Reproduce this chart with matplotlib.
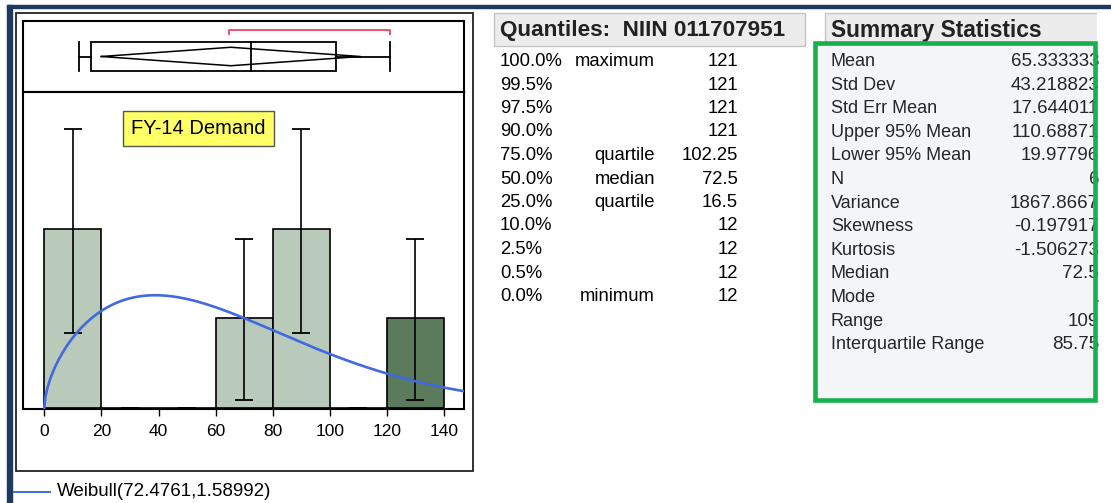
import numpy as np
import matplotlib.pyplot as plt
from matplotlib.patches import Rectangle

plt.rcParams['font.family'] = ['Liberation Sans', 'DejaVu Sans']

# histogram data (bins of 20)
bin_left = [0, 20, 40, 60, 80, 100, 120]
counts = [2, 0, 0, 1, 2, 0, 1]
ci_low = [0.84, 0, 0, 0.09, 0.84, 0, 0.09]
ci_high = [3.12, 0, 0, 1.89, 3.12, 0, 1.89]
selected = [False, False, False, False, False, False, True]

# outlier box plot values
box_min, box_q1, box_med, box_q3, box_max = 12, 16.5, 72.5, 102.25, 121
mean_val, mean_lo, mean_hi = 65.333333, 19.97796, 110.68871
shortest_half = [64.75, 121]

# fitted Weibull (scale, shape) from legend
wb_scale, wb_shape = 72.4761, 1.58992
n_obs = 6

q_pct = ['100.0%', '99.5%', '97.5%', '90.0%', '75.0%', '50.0%', '25.0%', '10.0%', '2.5%', '0.5%', '0.0%']
q_name = ['maximum', '', '', '', 'quartile', 'median', 'quartile', '', '', '', 'minimum']
q_val = ['121', '121', '121', '121', '102.25', '72.5', '16.5', '12', '12', '12', '12']

s_name = ['Mean', 'Std Dev', 'Std Err Mean', 'Upper 95% Mean', 'Lower 95% Mean', 'N', 'Variance',
          'Skewness', 'Kurtosis', 'Median', 'Mode', 'Range', 'Interquartile Range']
s_val = ['65.333333', '43.218823', '17.644011', '110.68871', '19.97796', '6', '1867.8667',
         '-0.197917', '-1.506273', '72.5', '.', '109', '85.75']

W, H = 1111, 503
fig = plt.figure(figsize=(W / 100, H / 100), dpi=100)

def px_axes(x0, y0, x1, y1):
    return fig.add_axes([x0 / W, 1 - y1 / H, (x1 - x0) / W, (y1 - y0) / H])

xlim = (-7.3, 147.0)

# box plot panel
bx = px_axes(23.5, 21, 464, 92)
bx.set_xlim(*xlim)
bx.set_ylim(0, 1)
bx.set_xticks([])
bx.set_yticks([])
for sp in bx.spines.values():
    sp.set_linewidth(1.5)
bx.add_patch(Rectangle((box_q1, 0.3), box_q3 - box_q1, 0.4, fill=False, ec='black', lw=1.3))
bx.plot([box_med, box_med], [0.3, 0.7], color='black', lw=1.3)
bx.plot([box_min, box_q1], [0.5, 0.5], color='black', lw=1.3)
bx.plot([box_q3, box_max], [0.5, 0.5], color='black', lw=1.3)
bx.plot([box_min, box_min], [0.3, 0.7], color='black', lw=1.3)
bx.plot([box_max, box_max], [0.3, 0.7], color='black', lw=1.3)
bx.plot([mean_lo, mean_val, mean_hi, mean_val, mean_lo], [0.5, 0.63, 0.5, 0.37, 0.5], color='black', lw=1.1)
bx.plot([shortest_half[0], shortest_half[0], shortest_half[1], shortest_half[1]],
        [0.81, 0.875, 0.875, 0.81], color='#f0506e', lw=1.4)

# histogram
ax = px_axes(23.5, 92, 464, 409)
ax.set_xlim(*xlim)
ax.set_ylim(-0.015, 3.53)
for sp in ax.spines.values():
    sp.set_linewidth(1.5)
colors = ['#5c7a5c' if s else '#b9cabb' for s in selected]
ax.bar(bin_left, counts, width=20, align='edge', color=colors, edgecolor='black', lw=1.2, zorder=2)
centers = np.array(bin_left) + 10
cnt = np.array(counts, dtype=float)
ax.errorbar(centers, cnt, yerr=[cnt - np.array(ci_low), np.array(ci_high) - cnt], fmt='none',
            ecolor='black', elinewidth=1.2, capsize=6.6, capthick=1.3, zorder=3)
xs = np.linspace(0, 147, 400)
dens = (wb_shape / wb_scale) * (xs / wb_scale) ** (wb_shape - 1) * np.exp(-(xs / wb_scale) ** wb_shape)
ax.plot(xs, n_obs * 20 * dens, color='#4169e1', lw=1.9, zorder=4)
ax.set_xticks(range(0, 141, 20))
ax.set_yticks([])
ax.tick_params(axis='x', length=5, width=1, pad=6, labelsize=12.5)

# page elements drawn in pixel coordinates on top
bg = fig.add_axes([0, 0, 1, 1])
bg.set_xlim(0, W)
bg.set_ylim(H, 0)
bg.axis('off')
bg.patch.set_alpha(0)

navy = '#1c3a5e'
bg.add_patch(Rectangle((7, 5), W - 7, 2.5, color=navy))
bg.add_patch(Rectangle((7, 5), 5, H - 5, color=navy))
# outer frame of the plot
bg.add_patch(Rectangle((15.5, 13), 457, 458, fill=False, ec='#222222', lw=1.3))

bg.text(131, 128.5, 'FY-14 Demand', fontsize=14.5, va='center', ha='left', zorder=10,
        bbox=dict(boxstyle='square,pad=0.4', fc='#ffff66', ec='#555555', lw=1))

# legend
bg.plot([14, 50], [492, 492], color='#4169e1', lw=1.4)
bg.text(57, 492, 'Weibull(72.4761,1.58992)', fontsize=13.5, va='center', ha='left')

# quantiles table
bg.add_patch(Rectangle((494, 13), 311, 33, fc='#ececec', ec='#c4c4c4', lw=1))
bg.text(500, 30, 'Quantiles:  NIIN 011707951', fontsize=16.2, fontweight='bold', va='center', color='#222222')
for i in range(len(q_pct)):
    y = 61.5 + i * 23.5
    bg.text(500, y, q_pct[i], fontsize=13.3, va='center', ha='left')
    bg.text(655, y, q_name[i], fontsize=13.3, va='center', ha='right')
    bg.text(738, y, q_val[i], fontsize=13.3, va='center', ha='right')

# summary statistics
bg.add_patch(Rectangle((825, 13), 277, 32, fc='#ececec', ec='#c4c4c4', lw=1))
bg.text(831, 30, 'Summary Statistics', fontsize=16.4, fontweight='bold', va='center', color='#222222')
bg.add_patch(Rectangle((815, 42.5), 280, 357, fc='#f4f5f7', ec='none'))
for i in range(len(s_name)):
    y = 61.5 + i * 23.6
    bg.text(831, y, s_name[i], fontsize=13, va='center', ha='left', color='#262626')
    bg.text(1099, y, s_val[i], fontsize=13.5, va='center', ha='right', color='#262626')
bg.add_patch(Rectangle((1097, 13), 14, 400, fc='white', ec='none'))
bg.add_patch(Rectangle((815, 42.5), 280, 357, fill=False, ec='#16b04c', lw=3.3, zorder=5))

fig.savefig('out.png', dpi=100)
